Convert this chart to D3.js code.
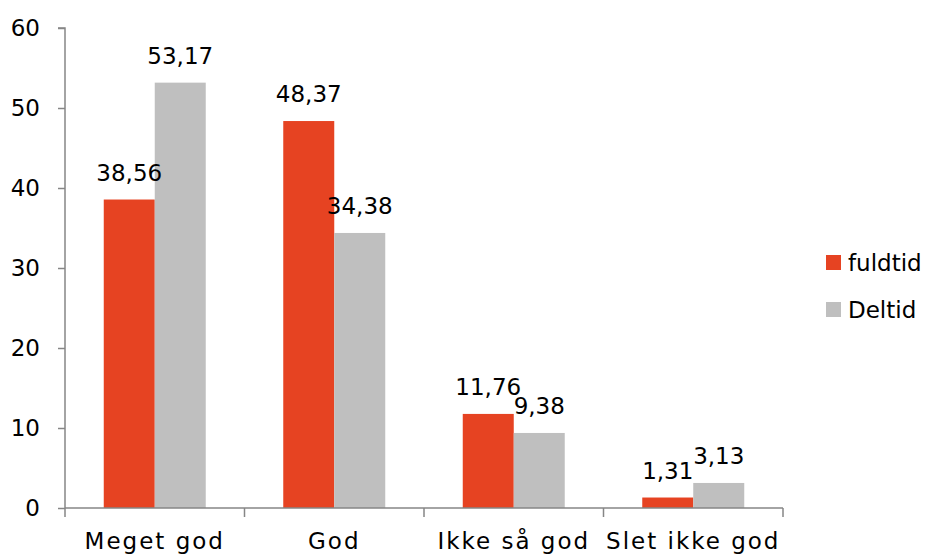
<!DOCTYPE html>
<html>
<head>
<meta charset="utf-8">
<script src="https://cdn.jsdelivr.net/npm/d3@7"></script>
<style>
  body { margin: 0; background: #fff; }
  text { font-family: "Century Gothic", "DejaVu Sans", sans-serif; fill: #000; }
</style>
</head>
<body>
<svg id="chart" width="927" height="555"></svg>
<script>
// chart data
const categories = ["Meget god", "God", "Ikke så god", "Slet ikke god"];
const seriesNames = ["fuldtid", "Deltid"];
const fuldtid = [38.56, 48.37, 11.76, 1.31];
const deltid = [53.17, 34.38, 9.38, 3.13];
const yTicks = [0, 10, 20, 30, 40, 50, 60];
const colors = ["#E64322", "#BFBFBF"];

let svg = d3.select("#chart");

// plot area
let plotL = 65, plotR = 783, plotT = 28, plotB = 508;

let x = d3.scaleBand().domain(categories).range([plotL, plotR]).paddingInner(0).paddingOuter(0);
let xInner = d3.scaleBand().domain(seriesNames).range([0, x.bandwidth()]).paddingOuter(0.76).paddingInner(0);
let y = d3.scaleLinear().domain([0, 60]).range([plotB, plotT]);

let rows = categories.map((c, i) => ({ cat: c, vals: [fuldtid[i], deltid[i]] }));

// bars
let groups = svg.selectAll("g.cat")
  .data(rows)
  .enter()
  .append("g")
  .attr("class", "cat")
  .attr("transform", d => `translate(${x(d.cat)},0)`);

groups.selectAll("rect")
  .data(d => d.vals.map((v, j) => ({ name: seriesNames[j], v: v, j: j })))
  .enter()
  .append("rect")
  .attr("x", d => xInner(d.name))
  .attr("width", xInner.bandwidth())
  .attr("y", d => y(d.v))
  .attr("height", d => y(0) - y(d.v))
  .attr("fill", d => colors[d.j]);

// value labels
groups.selectAll("text.val")
  .data(d => d.vals.map((v, j) => ({ name: seriesNames[j], v: v })))
  .enter()
  .append("text")
  .attr("class", "val")
  .attr("x", d => xInner(d.name) + xInner.bandwidth() / 2)
  .attr("y", d => y(d.v) - 19)
  .attr("text-anchor", "middle")
  .style("font-size", "23px")
  .text(d => d.v.toFixed(2).replace(".", ","));

// y axis
let yAxis = d3.axisLeft(y).tickValues(yTicks).tickSize(7).tickPadding(18);
let gy = svg.append("g").attr("transform", `translate(${plotL},0)`).call(yAxis);
gy.select(".domain").attr("d", `M-7,${plotT}H0V${plotB}`);

// x axis
let xAxis = d3.axisBottom(x).tickSize(0).tickPadding(25).tickFormat(d => d);
let gx = svg.append("g").attr("transform", `translate(0,${plotB})`).call(xAxis);
gx.select(".domain").attr("d", `M${plotL},0H${plotR}`);
gx.selectAll("line.sep")
  .data(d3.range(categories.length + 1))
  .enter()
  .append("line")
  .attr("class", "sep")
  .attr("x1", i => plotL + i * x.step())
  .attr("x2", i => plotL + i * x.step())
  .attr("y1", 0)
  .attr("y2", 9);

svg.selectAll(".domain, .tick line, line.sep").attr("stroke", "#868686").attr("stroke-width", 1.5);
svg.selectAll(".tick text").style("font-size", "23px").attr("fill", "#000")
  .style("font-family", "\"Century Gothic\", \"DejaVu Sans\", sans-serif");
gx.selectAll(".tick text").style("letter-spacing", "2px");

// legend
let legend = svg.selectAll("g.leg")
  .data(seriesNames)
  .enter()
  .append("g")
  .attr("class", "leg")
  .attr("transform", (d, i) => `translate(826,${255 + i * 47})`);

legend.append("rect")
  .attr("width", 15)
  .attr("height", 15)
  .attr("fill", (d, i) => colors[i]);

legend.append("text")
  .attr("x", 22)
  .attr("y", 16)
  .style("font-size", "23px")
  .text(d => d);
</script>
</body>
</html>
